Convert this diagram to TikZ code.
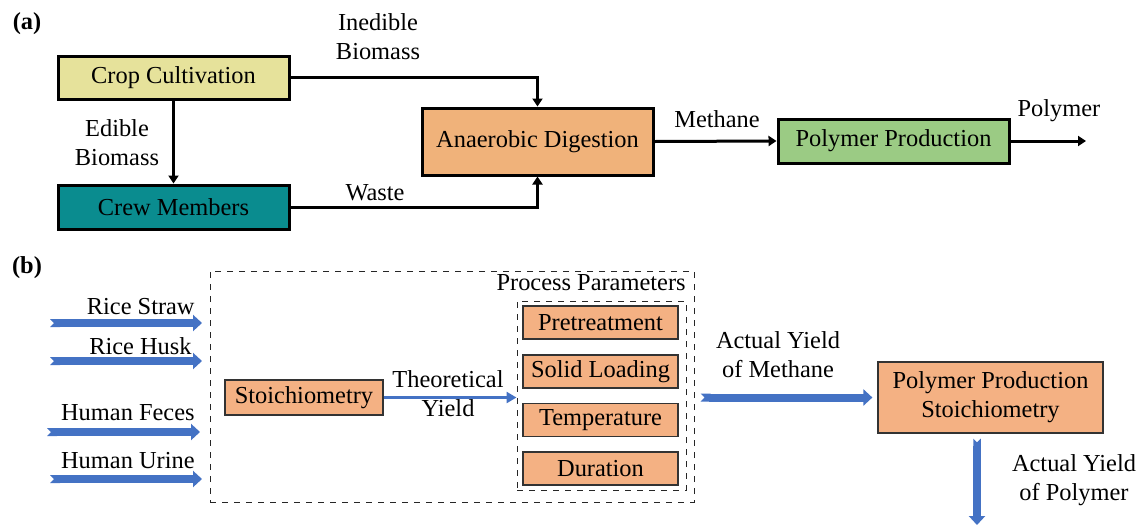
\documentclass[tikz,border=0pt]{standalone}
\usepackage{fontspec}
\setmainfont{Liberation Serif}
\usetikzlibrary{arrows.meta}
\definecolor{cropc}{HTML}{E6E29B}
\definecolor{crewc}{HTML}{0A8C8F}
\definecolor{adc}{HTML}{F0B27A}
\definecolor{ppc}{HTML}{9BCB84}
\definecolor{orb}{HTML}{F4B183}
\definecolor{blu}{HTML}{4472C4}
\tikzset{
  txt/.style={font=\fontsize{12.2}{14.5}\selectfont, inner sep=0pt, align=center},
  panel/.style={font=\bfseries\fontsize{12.2}{14.5}\selectfont, inner sep=0pt},
  abox/.style={draw=black, line width=1.5pt, inner sep=0pt, txt},
  bbox/.style={draw=black!80, line width=0.6pt, fill=orb, inner sep=0pt, txt},
  dashbox/.style={draw=black!85, dashed, line width=0.5pt, inner sep=0pt},
  aarrow/.style={line width=1.5pt, -{Triangle[width=5pt,length=4pt]}},
  thinblue/.style={draw=blu, line width=1.5pt, -{Triangle[width=5.5pt,length=5pt]}},
  blockarrow/.style={draw=blu, line width=4pt, {Triangle Cap[reversed]}-{Triangle[width=8pt,length=4.5pt]}},
  downarrow/.style={draw=blu, line width=3.75pt, {Triangle Cap[reversed]}-{Triangle[width=8pt,length=4.5pt]}}
}
\begin{document}
\begin{tikzpicture}[x=0.5pt,y=-0.5pt]
\useasboundingbox (0,0) rectangle (1139,525);
% ---------- (a) ----------
\node[panel] (pa) at (27,24) {(a)};
\node[abox, fill=cropc, minimum width=115.5pt, minimum height=21.5pt] (crop) at (173.5,77.5) {Crop Cultivation};
\node[abox, fill=crewc, minimum width=115.5pt, minimum height=22pt] (crew) at (173.5,207) {Crew Members};
\node[abox, fill=adc, minimum width=115.5pt, minimum height=33.5pt] (ad) at (537.5,141.5) {Anaerobic Digestion};
\node[abox, fill=ppc, minimum width=115.5pt, minimum height=22pt] (pp) at (893.5,141) {Polymer Production};
\coordinate (polyout) at (1086,141);
\draw[aarrow] (crop.east) -| (ad.north);
\draw[aarrow] (crop.south) -- (crew.north);
\draw[aarrow] (crew.east) -| (ad.south);
\draw[aarrow] (ad.east) -- (pp.west);
\draw[aarrow] (pp.east) -- (polyout);
\node[txt] (linedible) at (378,36.5) {Inedible\\Biomass};
\node[txt] (ledible) at (117,142.5) {Edible\\Biomass};
\node[txt] (lwaste) at (375,193) {Waste};
\node[txt] (lmethane) at (717,119) {Methane};
\node[txt] (lpolymer) at (1059,111) {Polymer};
% ---------- (b) ----------
\node[panel] (pb) at (27,268) {(b)};
\node[dashbox, minimum width=242pt, minimum height=115.5pt] (outer) at (452,386.5) {};
\node[dashbox, minimum width=84.5pt, minimum height=94.5pt] (inner) at (601.5,395.5) {};
\node[txt, anchor=east] (lpp) at (686,283) {Process Parameters};
\node[bbox, minimum width=77.5pt, minimum height=16.5pt] (pre) at (600.5,322.5) {Pretreatment};
\node[bbox, minimum width=77.5pt, minimum height=16.5pt] (sol) at (600.5,371.5) {Solid Loading};
\node[bbox, minimum width=77.5pt, minimum height=16.5pt] (tem) at (600.5,420) {Temperature};
\node[bbox, minimum width=77.5pt, minimum height=16.5pt] (dur) at (600.5,468.5) {Duration};
\node[bbox, minimum width=79pt, minimum height=17.5pt] (sto) at (304,397.5) {Stoichiometry};
\draw[thinblue] (sto.east) -- (sto.east -| inner.west);
\node[txt] (lty) at (448,394) {Theoretical\\Yield};
% inputs
\coordinate (rs0) at (50,323); \coordinate (rs1) at (202,323);
\coordinate (rh0) at (50,361); \coordinate (rh1) at (202,361);
\coordinate (hf0) at (47,432); \coordinate (hf1) at (200,432);
\coordinate (hu0) at (50,479); \coordinate (hu1) at (202,479);
\draw[blockarrow] (rs0) -- (rs1);
\draw[blockarrow] (rh0) -- (rh1);
\draw[blockarrow] (hf0) -- (hf1);
\draw[blockarrow] (hu0) -- (hu1);
\node[txt, anchor=east] (lrs) at (195,307) {Rice Straw};
\node[txt, anchor=east] (lrh) at (192,346) {Rice Husk};
\node[txt, anchor=east] (lhf) at (195,413) {Human Feces};
\node[txt, anchor=east] (lhu) at (195,461) {Human Urine};
% right part
\node[bbox, minimum width=112.5pt, minimum height=35.5pt] (pps) at (990.5,397.5) {Polymer Production\\Stoichiometry};
\draw[blockarrow, shorten <=3pt, shorten >=2.5pt] (pps.west -| outer.east) -- (pps.west);
\node[txt] (lam) at (778,354.5) {Actual Yield\\of Methane};
\coordinate (pout) at (977,525);
\draw[downarrow, shorten <=2.5pt] (pout |- pps.south) -- (pout);
\node[txt] (lap) at (1074,480) {Actual Yield\\of Polymer};
\end{tikzpicture}
\end{document}
